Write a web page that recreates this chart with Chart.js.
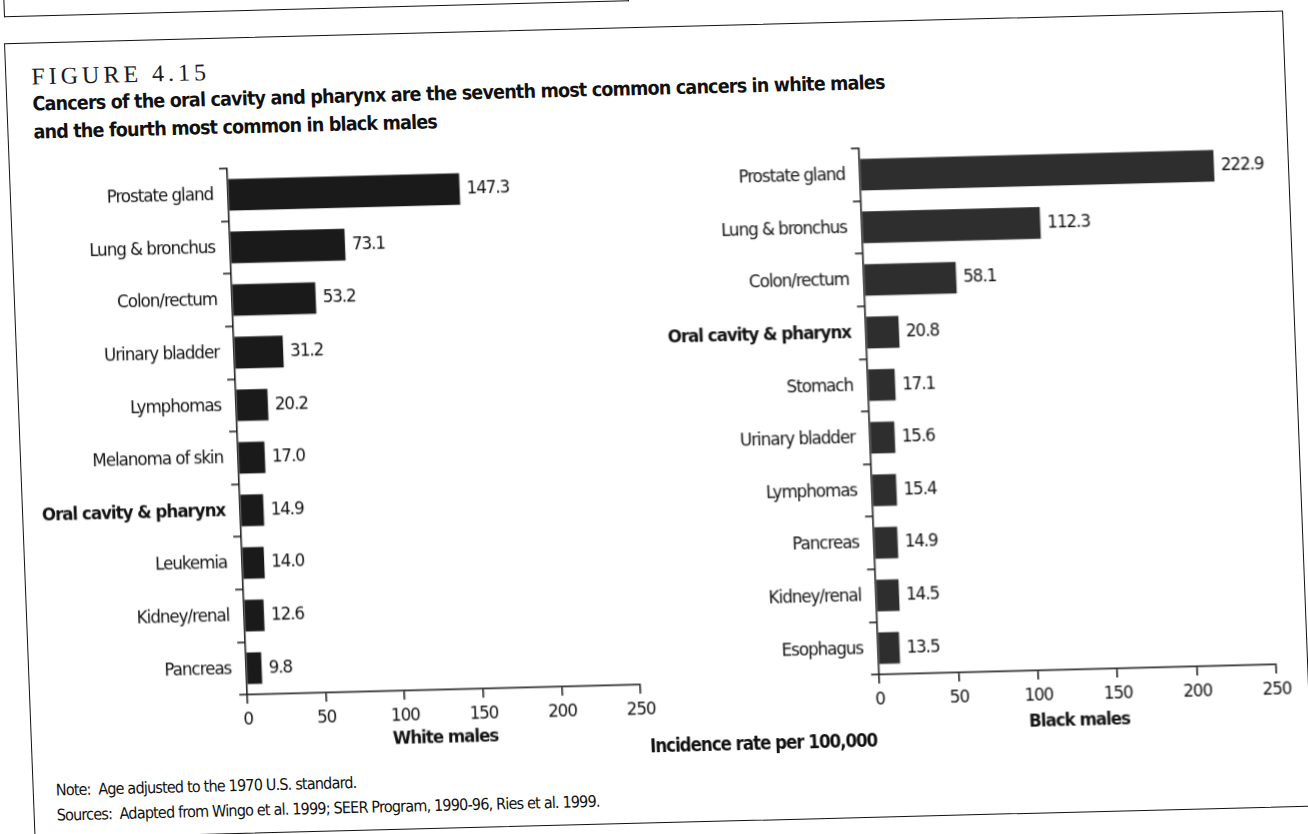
<!DOCTYPE html>
<html>
<head>
<meta charset="utf-8">
<title>Figure 4.15</title>
<script src="https://cdn.jsdelivr.net/npm/chart.js@4.4.0/dist/chart.umd.min.js"></script>
<style>
  html, body { margin: 0; padding: 0; background: #fff; }
  body {
    width: 1308px; height: 834px; overflow: hidden; position: relative;
    font-family: 'DejaVu Sans Condensed', 'DejaVu Sans', sans-serif; color: #111;
  }
  /* printed page sits a little askew on the scanner bed */
  #page {
    position: absolute; left: 0; top: 0; width: 1308px; height: 834px;
    transform-origin: 654px 417px;
    transform: matrix(1, -0.0255, 0.0384, 1, 0, 0);
  }
  #prevFrame {
    position: absolute; left: 20px; top: -58px; width: 625px; height: 59px;
    border: 1.5px solid #111; border-top: none; box-sizing: border-box;
  }
  #frame {
    position: absolute; left: 19px; top: 27px; width: 1279px; height: 796px;
    border: 1.5px solid #111; box-sizing: border-box;
  }
  #figNum {
    position: absolute; left: 45px; top: 49px; line-height: 24px;
    font-family: 'Liberation Serif', serif; font-size: 24px; letter-spacing: 4px; color: #1a1a1a;
  }
  #headline {
    position: absolute; left: 45px; top: 75px; line-height: 28px;
    font-size: 19.5px; letter-spacing: -0.8px; font-weight: bold; white-space: nowrap;
  }
  #rateTitle {
    position: absolute; left: 551px; top: 733px; width: 400px; text-align: center;
    line-height: 26px; font-size: 18.5px; letter-spacing: -1px; font-weight: bold;
  }
  #notes {
    position: absolute; left: 42px; top: 762px; line-height: 25px;
    font-size: 16px; letter-spacing: -0.8px; white-space: pre;
  }
  canvas { position: absolute; }
  #whiteChart { left: 20px; top: 120px; }
  #blackChart { left: 650px; top: 115px; }
</style>
</head>
<body>
<div id="page">
  <div id="prevFrame"></div>
  <div id="frame"></div>
  <div id="figNum">FIGURE 4.15</div>
  <div id="headline">Cancers of the oral cavity and pharynx are the seventh most common cancers in white males<br>and the fourth most common in black males</div>
  <canvas id="whiteChart" width="640" height="623"></canvas>
  <canvas id="blackChart" width="646" height="627"></canvas>
  <div id="rateTitle">Incidence rate per 100,000</div>
  <div id="notes">Note:  Age adjusted to the 1970 U.S. standard.
Sources:  Adapted from Wingo et al. 1999; SEER Program, 1990-96, Ries et al. 1999.</div>
</div>

<script>
// Incidence rates per 100,000 (age adjusted), top ten sites
const whiteSites = ['Prostate gland', 'Lung & bronchus', 'Colon/rectum', 'Urinary bladder', 'Lymphomas',
  'Melanoma of skin', 'Oral cavity & pharynx', 'Leukemia', 'Kidney/renal', 'Pancreas'];
const whiteRates = [147.3, 73.1, 53.2, 31.2, 20.2, 17.0, 14.9, 14.0, 12.6, 9.8];

const blackSites = ['Prostate gland', 'Lung & bronchus', 'Colon/rectum', 'Oral cavity & pharynx', 'Stomach',
  'Urinary bladder', 'Lymphomas', 'Pancreas', 'Kidney/renal', 'Esophagus'];
const blackRates = [222.9, 112.3, 58.1, 20.8, 17.1, 15.6, 15.4, 14.9, 14.5, 13.5];

const rateTicks = [0, 50, 100, 150, 200, 250];
const focusSite = 'Oral cavity & pharynx';

const FONT = "'DejaVu Sans Condensed', 'DejaVu Sans', sans-serif";
const INK = '#111';

Chart.defaults.font.family = FONT;
Chart.defaults.color = INK;

// the book face is a condensed one, so pull the letters a bit closer
const tightText = {
  id: 'tightText',
  beforeDraw(chart) {
    chart.ctx.letterSpacing = '-1px';
  }
};

// prints the rate just past the end of each bar
const valueLabels = {
  id: 'valueLabels',
  afterDatasetsDraw(chart) {
    const ctx = chart.ctx;
    const values = chart.data.datasets[0].data;
    ctx.save();
    ctx.font = '18.5px ' + FONT;
    ctx.fillStyle = INK;
    ctx.textAlign = 'left';
    ctx.textBaseline = 'middle';
    chart.getDatasetMeta(0).data.forEach((bar, i) => {
      ctx.fillText(values[i].toFixed(1), bar.x + 7, bar.y);
    });
    ctx.restore();
  }
};

function drawPanel(canvasId, sites, rates, groupTitle, barColor, layout) {
  const ctx = document.getElementById(canvasId).getContext('2d');

  new Chart(ctx, {
    type: 'bar',
    data: {
      labels: sites,
      datasets: [{
        data: rates,
        backgroundColor: barColor,
        barPercentage: 0.6,
        categoryPercentage: 1.0
      }]
    },
    options: {
      indexAxis: 'y',
      responsive: false,
      animation: false,
      layout: { padding: { top: layout.padTop, right: 30, bottom: 0, left: 0 } },
      plugins: {
        legend: { display: false },
        tooltip: { enabled: false }
      },
      scales: {
        x: {
          min: 0,
          max: 250,
          afterBuildTicks: scale => { scale.ticks = rateTicks.map(v => ({ value: v })); },
          afterFit: scale => { scale.height = layout.xHeight; },
          grid: { drawOnChartArea: false, tickLength: 9, color: INK, lineWidth: 1.5 },
          border: { color: INK, width: 1.5 },
          ticks: { color: INK, font: { size: 18.5 }, padding: 5, maxRotation: 0 },
          title: {
            display: true,
            text: groupTitle,
            color: INK,
            font: { size: 18.5, weight: 'bold' },
            padding: 0
          }
        },
        y: {
          afterFit: scale => { scale.width = layout.yWidth; },
          grid: { drawOnChartArea: false, tickLength: 8, color: INK, lineWidth: 1.5, offset: true },
          border: { color: INK, width: 1.5 },
          ticks: {
            color: INK,
            padding: 7,
            font: c => ({ size: 18.5, weight: sites[c.index] === focusSite ? 'bold' : 'normal' })
          }
        }
      }
    },
    plugins: [tightText, valueLabels]
  });
}

drawPanel('whiteChart', whiteSites, whiteRates, 'White males', '#1a1a1a',
  { padTop: 38, yWidth: 217, xHeight: 59 });
drawPanel('blackChart', blackSites, blackRates, 'Black males', '#2e2e2e',
  { padTop: 39, yWidth: 219, xHeight: 62 });
</script>
</body>
</html>
